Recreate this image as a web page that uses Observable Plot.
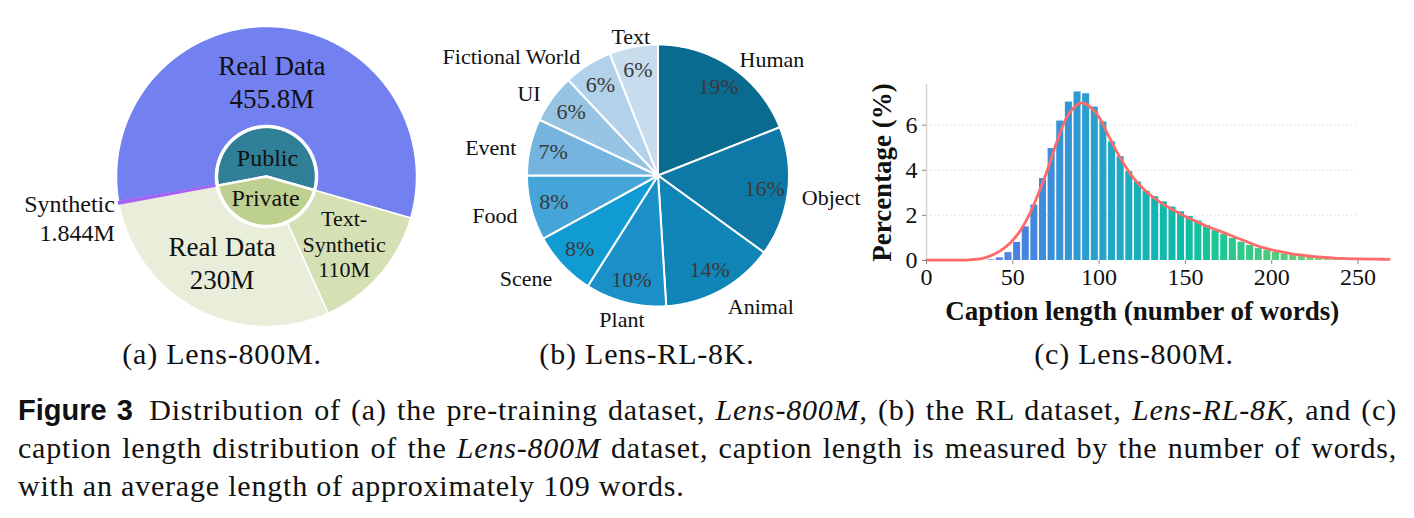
<!DOCTYPE html>
<html>
<head>
<meta charset="utf-8">
<script src="https://cdn.jsdelivr.net/npm/d3@7"></script>
<script src="https://cdn.jsdelivr.net/npm/@observablehq/plot@0.6"></script>
<style>
  html, body { margin: 0; padding: 0; background: #fff; }
  #fig { position: relative; width: 1414px; height: 518px; overflow: hidden;
         font-family: "Liberation Serif", "Times New Roman", serif; color: #111; }
  .panel { position: absolute; }
  .sub { position: absolute; top: 335px; width: 400px; text-align: center;
         font-size: 30px; line-height: 38px; letter-spacing: 0.8px; }
  #caption { position: absolute; left: 18px; top: 391px; width: 1379px;
             font-size: 30px; line-height: 38px; letter-spacing: 0.8px; }
  #caption .ln { text-align: justify; text-align-last: justify; }
  #caption .ln.last { text-align: left; text-align-last: left; }
  #caption b { font-family: "Liberation Sans", Arial, sans-serif; font-weight: bold;
               font-size: 29px; letter-spacing: 0; margin-right: 6px; }
</style>
</head>
<body>
<div id="fig">
  <div class="panel" id="pa" style="left:0px;top:0px"></div>
  <div class="panel" id="pb" style="left:440px;top:0px"></div>
  <div class="panel" id="pc" style="left:830px;top:70px"></div>
  <div class="sub" style="left:22px">(a) Lens-800M.</div>
  <div class="sub" style="left:447px">(b) Lens-RL-8K.</div>
  <div class="sub" style="left:934px">(c) Lens-800M.</div>
  <div id="caption">
    <div class="ln"><b>Figure 3</b> Distribution of (a) the pre-training dataset, <i>Lens-800M</i>, (b) the RL dataset, <i>Lens-RL-8K</i>, and (c)</div>
    <div class="ln">caption length distribution of the <i>Lens-800M</i> dataset, caption length is measured by the number of words,</div>
    <div class="ln last">with an average length of approximately 109 words.</div>
  </div>
</div>
<script>
// ---------- (a) Lens-800M: data sources (millions of samples) ----------
const sourceGroups = ["Public", "Private"];
const sourceNames = ["Synthetic", "Real Data", "Text-Synthetic", "Real Data"];
const sourceGroupOf = ["Public", "Public", "Private", "Private"];
const sourceMillions = [1.844, 455.8, 110, 230];

// ---------- (b) Lens-RL-8K: category shares (%) ----------
const categories = ["Human", "Object", "Animal", "Plant", "Scene", "Food", "Event", "UI", "Fictional World", "Text"];
const categoryShares = [19, 16, 14, 10, 8, 8, 7, 6, 6, 6];

// ---------- (c) Lens-800M: caption length histogram (5-word bins, % of captions) ----------
const binStarts = [35, 40, 45, 50, 55, 60, 65, 70, 75, 80, 85, 90, 95, 100, 105, 110, 115, 120, 125, 130,
                   135, 140, 145, 150, 155, 160, 165, 170, 175, 180, 185, 190, 195, 200, 205, 210, 215, 220,
                   225, 230, 235, 240, 245, 250, 255, 260, 265];
const binPercents = [0.03, 0.12, 0.35, 0.80, 1.49, 2.46, 3.63, 4.96, 6.18, 7.02, 7.47, 7.39, 6.80, 6.14, 5.26,
                     4.60, 3.94, 3.48, 3.07, 2.83, 2.60, 2.37, 2.16, 1.95, 1.75, 1.55, 1.32, 1.15, 0.98, 0.81,
                     0.67, 0.54, 0.44, 0.36, 0.29, 0.24, 0.19, 0.16, 0.13, 0.10, 0.08, 0.06, 0.05, 0.04, 0.03,
                     0.02, 0.01];
// smoothed density of the same distribution
const curveWords = [0, 10, 20, 25, 30, 35, 40, 45, 50, 55, 60, 65, 70, 75, 80, 85, 90, 95, 100, 105, 110, 115,
                    120, 125, 130, 135, 140, 145, 150, 155, 160, 165, 170, 175, 180, 185, 190, 195, 200, 205,
                    210, 215, 220, 225, 230, 240, 250, 260, 268];
const curvePercents = [0.02, 0.02, 0.02, 0.03, 0.06, 0.15, 0.31, 0.55, 0.90, 1.40, 2.10, 3.00, 4.00, 5.15, 6.15,
                       6.75, 6.98, 6.80, 6.35, 5.60, 4.85, 4.20, 3.65, 3.22, 2.88, 2.60, 2.36, 2.15, 1.95, 1.77,
                       1.60, 1.44, 1.30, 1.15, 1.00, 0.85, 0.70, 0.57, 0.47, 0.39, 0.32, 0.26, 0.21, 0.17, 0.14,
                       0.09, 0.07, 0.06, 0.05];
const xTicks = [0, 50, 100, 150, 200, 250];
const yTicks = [0, 2, 4, 6];

// ---------- shared helpers ----------
const deg = Math.PI / 180;
const serif = '"Liberation Serif", "Times New Roman", serif';

// polygon of an annular sector; angles clockwise from 12 o'clock, y pointing up
function sector(a0, a1, r0, r1) {
  const n = Math.max(2, Math.ceil((a1 - a0) / (0.5 * deg)));
  const pts = [];
  for (let i = 0; i <= n; i++) {
    const a = a0 + (a1 - a0) * i / n;
    pts.push({x: r1 * Math.sin(a), y: r1 * Math.cos(a)});
  }
  if (r0 > 0) {
    for (let i = n; i >= 0; i--) {
      const a = a0 + (a1 - a0) * i / n;
      pts.push({x: r0 * Math.sin(a), y: r0 * Math.cos(a)});
    }
  } else {
    pts.push({x: 0, y: 0});
  }
  pts.push(pts[0]);
  return pts;
}
function circlePts(r) {
  return d3.range(0, 361, 1).map(d => ({x: r * Math.sin(d * deg), y: r * Math.cos(d * deg)}));
}
const polar = (a, r) => ({x: r * Math.sin(a), y: r * Math.cos(a)});

// ================= (a) nested donut =================
{
  const W = 440, H = 340, cx = 266, cy = 176;
  const R_OUT = 150, R_IN = 50;
  const start = 259.5 * deg;
  const sourceColors = ["#a463f4", "#7380f0", "#d5e0b5", "#e9eedb"];
  const groupColors = ["#2f7f97", "#bdd08f"];

  const total = d3.sum(sourceMillions);
  const groupTotals = sourceGroups.map(g => d3.sum(sourceMillions.filter((v, i) => sourceGroupOf[i] === g)));
  const pie = d3.pie().sort(null).startAngle(start).endAngle(start + 2 * Math.PI);
  const outerArcs = pie(sourceMillions);
  const innerArcs = pie(groupTotals);

  const marks = [];
  // wide slices first, then hairline slices on top so their colour stays visible
  const order = d3.sort(d3.range(outerArcs.length), i => -outerArcs[i].value);
  for (const i of order) {
    const a = outerArcs[i];
    const tiny = a.value / total < 0.01;
    marks.push(Plot.line(sector(a.startAngle, a.endAngle, R_IN, R_OUT), {
      x: "x", y: "y", fill: sourceColors[i],
      stroke: tiny ? sourceColors[i] : "#fff", strokeWidth: tiny ? 2 : 1.5, curve: "linear"
    }));
  }
  innerArcs.forEach((a, i) => {
    marks.push(Plot.line(sector(a.startAngle, a.endAngle, 0, R_IN), {
      x: "x", y: "y", fill: groupColors[i], stroke: "#fff", strokeWidth: 2.5, curve: "linear"
    }));
  });
  marks.push(Plot.line(circlePts(R_IN), {x: "x", y: "y", stroke: "#fff", strokeWidth: 3.5, curve: "linear"}));

  // slice labels: inside the ring when large enough, otherwise outside
  const labels = outerArcs.map((a, i) => {
    const mid = (a.startAngle + a.endAngle) / 2;
    const share = a.value / total;
    const inside = share > 0.05;
    const p = polar(mid, inside ? 0.64 * R_OUT : R_OUT + 4);
    return {
      ...p, inside, big: share > 0.25,
      text: sourceNames[i].replace("-", "-\n") + "\n" + sourceMillions[i] + "M"
    };
  });
  marks.push(Plot.text(labels.filter(d => d.inside && d.big), {
    x: "x", y: "y", text: "text", fontSize: 27, lineHeight: 1.22, fill: "#111"
  }));
  marks.push(Plot.text(labels.filter(d => d.inside && !d.big), {
    x: "x", y: "y", text: "text", fontSize: 22, lineHeight: 1.17, fill: "#111", dx: 5, dy: 4
  }));
  marks.push(Plot.text(labels.filter(d => !d.inside), {
    x: "x", y: "y", text: "text", fontSize: 24, lineHeight: 1.22, textAnchor: "end", dy: 14, fill: "#111"
  }));
  const groupLabels = innerArcs.map((a, i) => ({...polar((a.startAngle + a.endAngle) / 2, 0.4 * R_IN), text: sourceGroups[i]}));
  marks.push(Plot.text(groupLabels, {x: "x", y: "y", text: "text", fontSize: 24, fill: "#111", dy: 2}));

  const chart = Plot.plot({
    width: W, height: H, margin: 0,
    x: {domain: [-cx, W - cx], axis: null},
    y: {domain: [cy - H, cy], axis: null},
    style: {fontFamily: serif, background: "transparent", overflow: "visible"},
    marks
  });
  document.getElementById("pa").append(chart);
}

// ================= (b) category pie =================
{
  const W = 440, H = 340, cx = 217.5, cy = 175, R = 131;
  const pieColors = ["#0a6b91", "#0e79a6", "#1085b8", "#1a8fc8", "#119bd3", "#45a4d8", "#74b4de", "#97c4e3", "#b1d2ea", "#c7dded"];
  const arcs = d3.pie().sort(null)(categoryShares);

  const marks = arcs.map((a, i) => Plot.line(sector(a.startAngle, a.endAngle, 0, R), {
    x: "x", y: "y", fill: pieColors[i], stroke: "#fff", strokeWidth: 2, curve: "linear"
  }));

  const pct = arcs.map((a, i) => ({...polar((a.startAngle + a.endAngle) / 2, 0.82 * R), text: categoryShares[i] + "%"}));
  marks.push(Plot.text(pct, {x: "x", y: "y", text: "text", fontSize: 22, fill: "#3a3a3a"}));

  const outer = arcs.map((a, i) => {
    const mid = (a.startAngle + a.endAngle) / 2;
    const s = Math.sin(mid);
    return {...polar(mid, R + 14), text: categories[i], side: Math.abs(s) < 0.3 ? "middle" : s > 0 ? "start" : "end"};
  });
  for (const side of ["start", "middle", "end"]) {
    marks.push(Plot.text(outer.filter(d => d.side === side), {
      x: "x", y: "y", text: "text", fontSize: 22, textAnchor: side, fill: "#111", dy: 4
    }));
  }

  const chart = Plot.plot({
    width: W, height: H, margin: 0,
    x: {domain: [-cx, W - cx], axis: null},
    y: {domain: [cy - H, cy], axis: null},
    style: {fontFamily: serif, background: "transparent", overflow: "visible"},
    marks
  });
  document.getElementById("pb").append(chart);
}

// ================= (c) caption length histogram =================
{
  const binWidth = 5;
  const bins = binStarts.map((s, i) => ({start: s, end: s + binWidth, pct: binPercents[i]}));
  const curve = curveWords.map((w, i) => ({w, pct: curvePercents[i]}));
  const midTick = (d3.min(xTicks) + d3.max(xTicks)) / 2;

  const chart = Plot.plot({
    width: 572, height: 260,
    marginLeft: 96, marginRight: 10, marginTop: 14, marginBottom: 70,
    x: {domain: [0, 270]},
    y: {domain: [0, 7.8]},
    color: {
      type: "linear", interpolate: "rgb",
      domain: [35, 50, 65, 80, 95, 110, 125, 145, 165, 185, 205, 225, 245, 265],
      range: ["#6a86ee", "#4a80e0", "#3f8cdb", "#3496d5", "#2aa0cd", "#1eaac2", "#14b3b5", "#0dbca6",
              "#1bc596", "#38c987", "#55cd7c", "#78d277", "#a6da80", "#e4e78e"]
    },
    style: {fontFamily: serif, fontSize: "24px", color: "#111", background: "transparent", overflow: "visible"},
    marks: [
      Plot.ruleY(yTicks.filter(d => d > 0), {x1: 0, x2: d3.max(xTicks), stroke: "#dedede", strokeWidth: 0.8, strokeDasharray: "2,2"}),
      Plot.ruleX([0], {stroke: "#d4d4d4", strokeWidth: 1.5}),
      Plot.rect(bins, {x1: "start", x2: "end", y1: 0, y2: "pct", fill: "start", insetLeft: 0.8, insetRight: 0.8}),
      Plot.line(curve, {x: "w", y: "pct", stroke: "#ff6a6a", strokeWidth: 2.8, curve: "monotone-x"}),
      Plot.axisX({ticks: xTicks, tickSize: 4, tickPadding: 3, stroke: "#888", label: null}),
      Plot.axisY({ticks: yTicks, tickSize: 4, tickPadding: 5, stroke: "#888", label: null}),
      Plot.text(["Caption length (number of words)"], {
        x: midTick, frameAnchor: "bottom", lineAnchor: "middle", dy: 51,
        fontSize: 27, fontWeight: "bold", fill: "#111"
      }),
      Plot.text(["Percentage (%)"], {
        frameAnchor: "left", textAnchor: "middle", lineAnchor: "middle", rotate: -90, dx: -44,
        fontSize: 27, fontWeight: "bold", fill: "#111"
      })
    ]
  });
  document.getElementById("pc").append(chart);
}
</script>
</body>
</html>
